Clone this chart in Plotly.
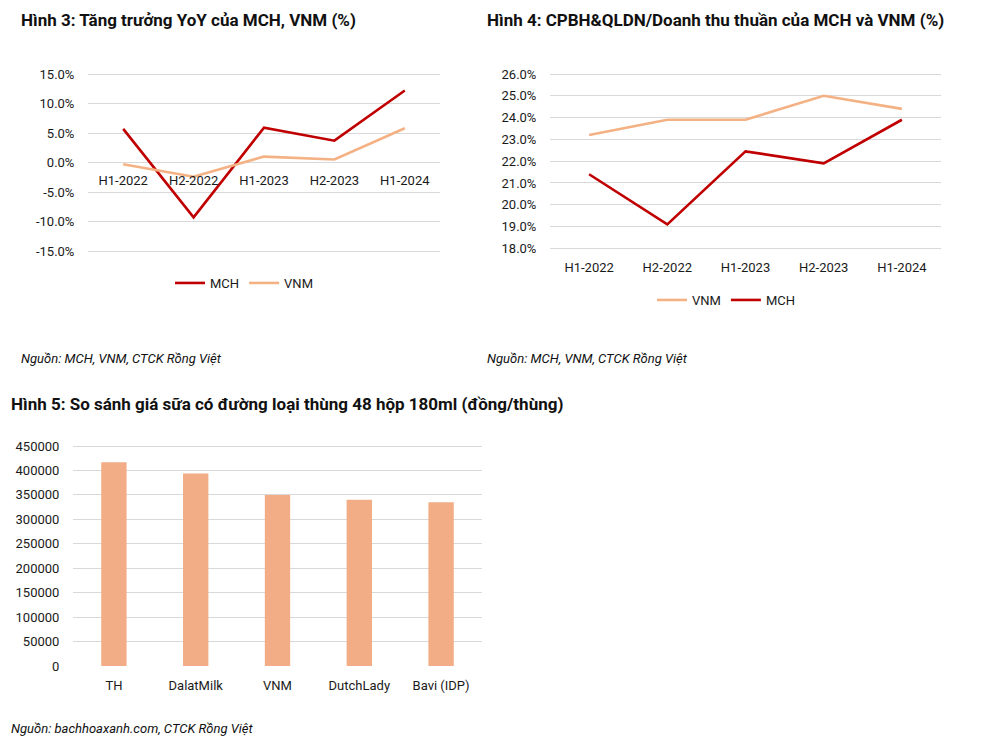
import plotly.graph_objects as go

W, H = 998, 745

periods = ["H1-2022", "H2-2022", "H1-2023", "H2-2023", "H1-2024"]
yoy_mch = [5.7, -9.3, 5.9, 3.7, 12.2]
yoy_vnm = [-0.3, -2.4, 1.0, 0.5, 5.8]

sga_vnm = [23.2, 23.9, 23.9, 25.0, 24.4]
sga_mch = [21.4, 19.1, 22.45, 21.9, 23.9]

brands = ["TH", "DalatMilk", "VNM", "DutchLady", "Bavi (IDP)"]
prices = [417000, 394000, 350000, 340000, 335000]

RED = "#C00000"
ORANGE = "#F4B183"
BAR = "#F2AD86"
GRID = "#D9D9D9"
FONT = "Roboto"
TXT = "#1a1a1a"

DX, DY = 8, 8  # page offset of the plot div


def fx(px):
    return (px - DX) / W


def fy(py):
    return 1 - (py - DY) / H


fig = go.Figure()

# Chart 1
fig.add_trace(go.Scatter(x=periods, y=yoy_mch, name="MCH", mode="lines",
                         line=dict(color=RED, width=2.6), xaxis="x", yaxis="y", legend="legend"))
fig.add_trace(go.Scatter(x=periods, y=yoy_vnm, name="VNM", mode="lines",
                         line=dict(color=ORANGE, width=2.6), xaxis="x", yaxis="y", legend="legend"))
# Chart 2
fig.add_trace(go.Scatter(x=periods, y=sga_vnm, name="VNM", mode="lines",
                         line=dict(color=ORANGE, width=2.6), xaxis="x2", yaxis="y2", legend="legend2"))
fig.add_trace(go.Scatter(x=periods, y=sga_mch, name="MCH", mode="lines",
                         line=dict(color=RED, width=2.6), xaxis="x2", yaxis="y2", legend="legend2"))
# Chart 3
fig.add_trace(go.Bar(x=brands, y=prices, marker=dict(color=BAR, line=dict(width=0)),
                     xaxis="x3", yaxis="y3", showlegend=False, width=0.31))

tickfont = dict(family=FONT, size=13, color=TXT)
ytick = dict(ticks="outside", ticklen=10, tickcolor="rgba(0,0,0,0)")

# chart 1 axes: -15 at 251, 15 at 74 -> 5.9 px per unit
y1_top, y1_bot = 74 - 5.9, 251 + 5.9
zero_y = 162.5
fig.update_layout(
    xaxis=dict(domain=[fx(88), fx(440)], anchor="free", position=fy(zero_y),
               range=[-0.5, 4.5], automargin=False,
               showgrid=False, showline=False, zeroline=False, ticks="outside",
               ticklen=6, tickcolor="rgba(0,0,0,0)", tickfont=tickfont),
    yaxis=dict(domain=[fy(y1_bot), fy(y1_top)], anchor="x", range=[-16, 16], automargin=False,
               tickvals=[-15, -10, -5, 0, 5, 10, 15],
               ticktext=["-15.0%", "-10.0%", "-5.0%", "0.0%", "5.0%", "10.0%", "15.0%"],
               showgrid=True, gridcolor=GRID, gridwidth=1, zeroline=False, showline=False,
               tickfont=tickfont, **ytick),
)

# chart 2 axes: 26 at 74, 18 at 248.3 -> 21.79 px per unit
pp2 = 21.79
y2_top, y2_bot = 74 - 0.1 * pp2, 248.3 + 0.1 * pp2
fig.update_layout(
    xaxis2=dict(domain=[fx(550), fx(941)], anchor="y2", range=[-0.5, 4.5], automargin=False,
                showgrid=False, showline=False,
                zeroline=False, ticks="outside", ticklen=5, tickcolor="rgba(0,0,0,0)",
                tickfont=tickfont),
    yaxis2=dict(domain=[fy(y2_bot), fy(y2_top)], anchor="x2", range=[17.9, 26.1], automargin=False,
                tickvals=[18, 19, 20, 21, 22, 23, 24, 25, 26],
                ticktext=[f"{v:.1f}%" for v in [18, 19, 20, 21, 22, 23, 24, 25, 26]],
                showgrid=True, gridcolor=GRID, zeroline=False, showline=False,
                tickfont=tickfont, **ytick),
)

# chart 3 axes: 0 at 666, 450000 at 446
pp3 = 220 / 450000
y3_top, y3_bot = 446 - 10000 * pp3, 666 + 2000 * pp3
fig.update_layout(
    xaxis3=dict(domain=[fx(73), fx(482)], anchor="y3", automargin=False,
                showgrid=False, showline=False,
                zeroline=False, ticks="outside", ticklen=6, tickcolor="rgba(0,0,0,0)",
                tickfont=tickfont),
    yaxis3=dict(domain=[fy(y3_bot), fy(y3_top)], anchor="x3", range=[-2000, 460000], automargin=False,
                tickvals=[0, 50000, 100000, 150000, 200000, 250000, 300000, 350000, 400000, 450000],
                ticktext=["0", "50000", "100000", "150000", "200000", "250000", "300000",
                          "350000", "400000", "450000"],
                showgrid=True, gridcolor=GRID, zeroline=False, showline=False,
                tickfont=tickfont, **ytick),
)

legfont = dict(family=FONT, size=13, color=TXT)
fig.update_layout(
    legend=dict(orientation="h", x=fx(244), y=fy(283), xanchor="center", yanchor="middle",
                font=legfont, bgcolor="rgba(0,0,0,0)", itemwidth=30),
    legend2=dict(orientation="h", x=fx(726), y=fy(300), xanchor="center", yanchor="middle",
                 font=legfont, bgcolor="rgba(0,0,0,0)", itemwidth=30),
)

titles = [
    ("Hình 3: Tăng trưởng YoY của MCH, VNM (%)", 22, 20),
    ("Hình 4: CPBH&QLDN/Doanh thu thuần của MCH và VNM (%)", 488, 20),
    ("Hình 5: So sánh giá sữa có đường loại thùng 48 hộp 180ml (đồng/thùng)", 12, 404),
]
for t, x, y in titles:
    fig.add_annotation(text=f"<b>{t}</b>", x=fx(x - 3), y=fy(y), xref="paper", yref="paper",
                       xanchor="left", yanchor="middle", showarrow=False,
                       font=dict(family=FONT, size=17, color="#111111"))

sources = [
    ("Nguồn: MCH, VNM, CTCK Rồng Việt", 22, 358),
    ("Nguồn: MCH, VNM, CTCK Rồng Việt", 488, 358),
    ("Nguồn: bachhoaxanh.com, CTCK Rồng Việt", 12, 728),
]
for t, x, y in sources:
    fig.add_annotation(text=f"<i>{t}</i>", x=fx(x - 3), y=fy(y), xref="paper", yref="paper",
                       xanchor="left", yanchor="middle", showarrow=False,
                       font=dict(family=FONT, size=13, color="#111111"))

fig.update_layout(width=W, height=H, margin=dict(l=0, r=0, t=0, b=0, autoexpand=False),
                  paper_bgcolor="white", plot_bgcolor="white", bargap=0.69,
                  template="none", font=dict(family=FONT, color=TXT))

fig.write_html("out.html", config={"displayModeBar": False})
